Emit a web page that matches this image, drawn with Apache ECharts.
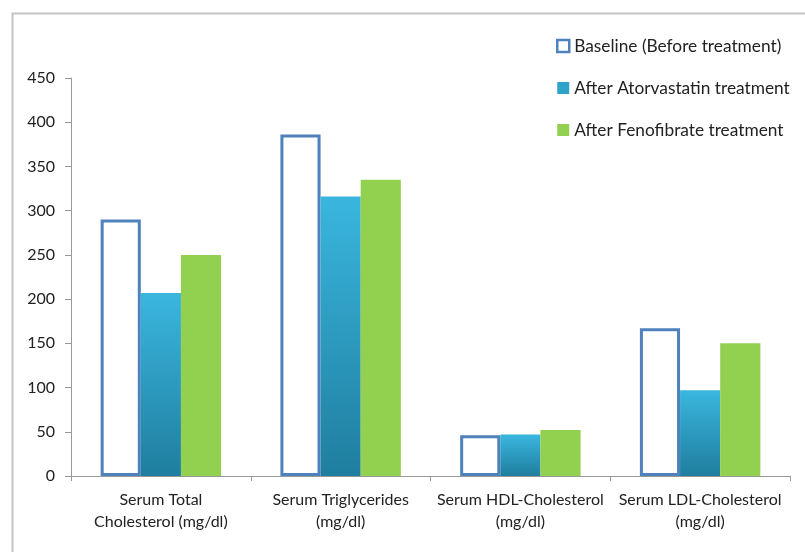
<!DOCTYPE html>
<html><head><meta charset="utf-8">
<script src="https://cdn.jsdelivr.net/npm/echarts@6/dist/echarts.min.js"></script>
<style>html,body{margin:0;padding:0;background:#fff}#c{width:805px;height:552px}</style>
</head><body><div id="c"></div>
<script>
const categories = ["Serum Total\nCholesterol (mg/dl)", "Serum Triglycerides\n(mg/dl)", "Serum HDL-Cholesterol\n(mg/dl)", "Serum LDL-Cholesterol\n(mg/dl)"];
const seriesNames = ["Baseline (Before treatment)", "After Atorvastatin treatment", "After Fenofibrate treatment"];
const baseline = [290, 386, 46, 167];
const atorvastatin = [207, 316, 47, 97];
const fenofibrate = [250, 335, 52, 150];
const yTicks = { min: 0, max: 450, interval: 50 };

const font = "Lato, 'Open Sans', sans-serif";
const chart = echarts.init(document.getElementById('c'), null, {renderer: 'canvas'});
chart.setOption({
  animation: false,
  backgroundColor: '#fff',
  graphic: [{
    type: 'rect', left: 10, top: 11,
    shape: {width: 820, height: 560},
    style: {fill: 'none', stroke: '#c4c4c4', lineWidth: 2}
  }],
  legend: {
    orient: 'vertical', left: 556, top: 37,
    itemWidth: 12, itemHeight: 12, itemGap: 24, padding: 0,
    textStyle: {fontFamily: font, fontSize: 17.3, color: '#222', lineHeight: 18},
    data: [
      {name: seriesNames[0], icon: 'rect', itemStyle: {color: '#fff', borderColor: '#4f81bd', borderWidth: 2.5}},
      {name: seriesNames[1], icon: 'rect', itemStyle: {color: '#2ea3c9'}},
      {name: seriesNames[2], icon: 'rect', itemStyle: {color: '#92d050'}}
    ]
  },
  grid: {left: 71, right: 15, top: 78, bottom: 76},
  xAxis: {
    type: 'category', data: categories,
    axisLine: {lineStyle: {color: '#999', width: 1}},
    axisTick: {show: true, length: 5, alignWithLabel: false, lineStyle: {color: '#999'}},
    axisLabel: {fontFamily: font, fontSize: 16, color: '#222', lineHeight: 22, margin: 13, interval: 0}
  },
  yAxis: {
    type: 'value', min: yTicks.min, max: yTicks.max, interval: yTicks.interval,
    splitLine: {show: false},
    axisLine: {show: true, lineStyle: {color: '#999', width: 1}},
    axisTick: {show: true, length: 6, lineStyle: {color: '#999'}},
    axisLabel: {fontFamily: font, fontSize: 16, color: '#222', margin: 16}
  },
  series: [
    {name: seriesNames[0], type: 'bar', data: baseline, barGap: '0%', barCategoryGap: '33%',
     itemStyle: {color: '#fff', borderColor: '#4f81bd', borderWidth: 3}},
    {name: seriesNames[1], type: 'bar', data: atorvastatin,
     itemStyle: {color: new echarts.graphic.LinearGradient(0, 0, 0, 1, [
       {offset: 0, color: '#3ab6de'}, {offset: 1, color: '#1f7e9f'}])}},
    {name: seriesNames[2], type: 'bar', data: fenofibrate,
     itemStyle: {color: '#92d050'}}
  ]
});
</script></body></html>
